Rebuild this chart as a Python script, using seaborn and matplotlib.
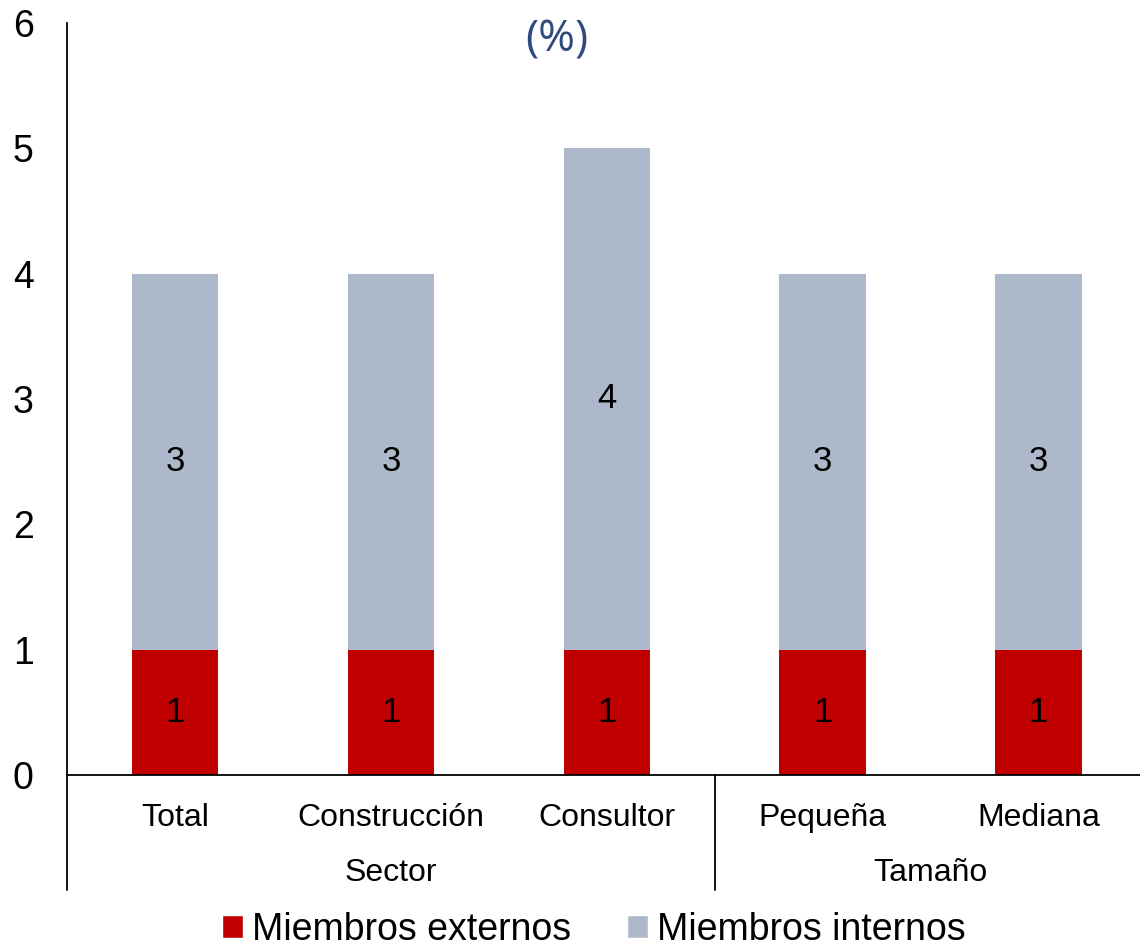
import numpy as np
import pandas as pd
import seaborn as sns
import matplotlib.pyplot as plt
from matplotlib.patches import Patch

# Data
categories = ["Total", "Construcción", "Consultor", "Pequeña", "Mediana"]
groups = ["Sector", "Sector", "Sector", "Tamaño", "Tamaño"]
externos = [1, 1, 1, 1, 1]
internos = [3, 3, 4, 3, 3]
yticks = [0, 1, 2, 3, 4, 5, 6]

RED = "#C00000"
GREY = "#ADB9CA"

sns.set_theme(style="white")
plt.rcParams["font.family"] = ["Liberation Sans", "DejaVu Sans"]

df = pd.DataFrame({"cat": categories, "ext": externos, "int": internos})
df["total"] = df["ext"] + df["int"]

fig = plt.figure(figsize=(11.4, 9.49), dpi=100)
ax = fig.add_axes([0.0588, 0.1834, 0.9412, 0.7924])

# stacked look: totals in grey underneath, externos in red on top
sns.barplot(data=df, x="cat", y="total", color=GREY, width=0.4,
            saturation=1, linewidth=0, ax=ax)
sns.barplot(data=df, x="cat", y="ext", color=RED, width=0.4,
            saturation=1, linewidth=0, ax=ax)

for i, row in df.iterrows():
    ax.text(i, row["ext"] / 2, f"{row['ext']}", ha="center", va="center",
            fontsize=25, color="black")
    ax.text(i, row["ext"] + row["int"] / 2, f"{row['int']}", ha="center",
            va="center", fontsize=25, color="black")

ax.set_ylim(0, 6)
ax.set_xlim(-0.5, 4.47)
ax.set_yticks(yticks)
ax.set_xlabel("")
ax.set_ylabel("")
ax.tick_params(axis="y", length=0, pad=24, labelsize=27, labelcolor="black")
ax.tick_params(axis="x", length=0, pad=20, labelsize=23, labelcolor="black")

for s in ["top", "right"]:
    ax.spines[s].set_visible(False)
for s in ["left", "bottom"]:
    ax.spines[s].set_color("black")
    ax.spines[s].set_linewidth(1.3)

# group separators and group labels under the category axis
trans = ax.get_xaxis_transform()
for xpos in [-0.5, 2.5]:
    ax.plot([xpos, xpos], [0, -0.153], transform=trans, color="black",
            lw=1.3, clip_on=False)
for name, xs in [("Sector", [0, 1, 2]), ("Tamaño", [3, 4])]:
    ax.text(np.mean(xs), -0.13, name, transform=trans, ha="center",
            va="center", fontsize=23, color="black")

fig.text(557 / 1140, 1 - 40 / 949, "(%)", ha="center", va="center",
         fontsize=32, color="#2F4A7C", family=["Open Sans", "DejaVu Sans"])

handles = [Patch(facecolor=RED, label="Miembros externos"),
           Patch(facecolor=GREY, label="Miembros internos")]
fig.legend(handles=handles, loc="center", ncol=2,
           bbox_to_anchor=(594 / 1140, 1 - 930 / 949), frameon=False,
           fontsize=27, labelcolor="black", handlelength=0.55,
           handleheight=0.55, handletextpad=0.25, columnspacing=1.5,
           borderaxespad=0)

fig.savefig("out.png", dpi=100)
